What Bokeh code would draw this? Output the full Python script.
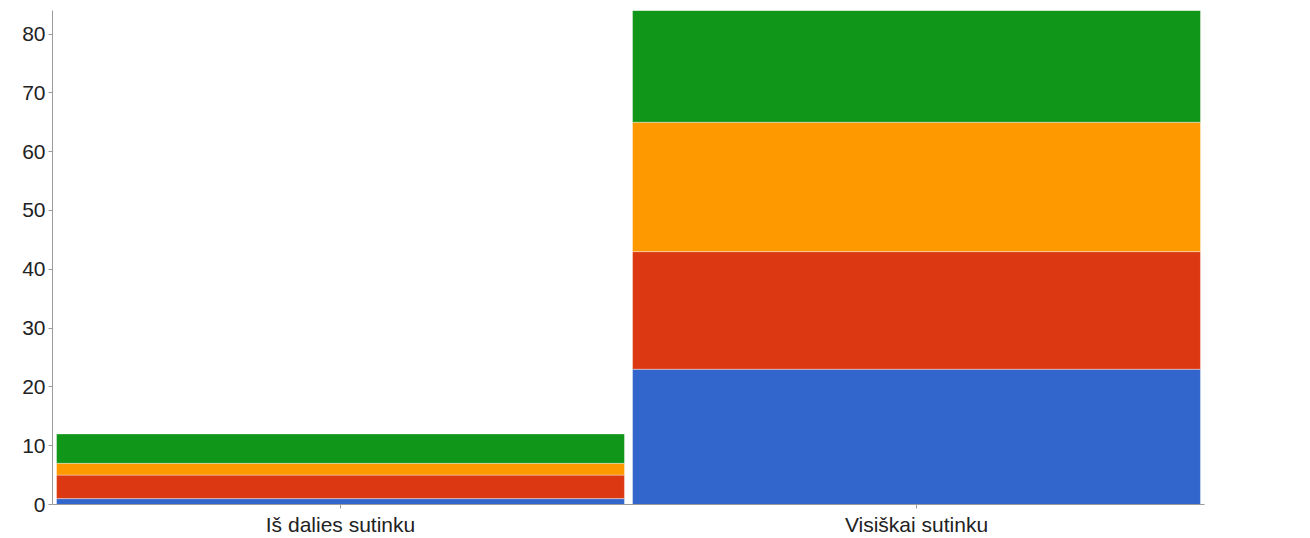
from bokeh.plotting import figure
from bokeh.models import FactorRange, Range1d, FixedTicker
from bokeh.embed import file_html
from bokeh.resources import INLINE

categories = ["Iš dalies sutinku", "Visiškai sutinku"]
series_names = ["s1", "s2", "s3", "s4"]
s1 = [1, 23]
s2 = [4, 20]
s3 = [2, 22]
s4 = [5, 19]
colors = ["#3366cc", "#dc3912", "#ff9900", "#109618"]
y_ticks = [0, 10, 20, 30, 40, 50, 60, 70, 80]

data = {"cat": categories, "s1": s1, "s2": s2, "s3": s3, "s4": s4}

p = figure(x_range=FactorRange(*categories, range_padding=0), y_range=Range1d(0, 84),
           width=1310, height=538, output_backend="svg", toolbar_location=None,
           min_border_left=52, min_border_right=106, min_border_top=10, min_border_bottom=33)
p.vbar_stack(series_names, x="cat", width=0.986, color=colors, source=data,
             line_color="white", line_width=0.6, line_alpha=0.6)

p.outline_line_color = None
p.xgrid.grid_line_color = None
p.ygrid.grid_line_color = None
p.yaxis.ticker = FixedTicker(ticks=y_ticks)
for ax in (p.xaxis, p.yaxis):
    ax.axis_line_color = "#9a9a9a"
    ax.major_tick_line_color = "#9a9a9a"
    ax.minor_tick_line_color = None
    ax.major_label_text_color = "#222222"
    ax.major_label_text_font = "Liberation Sans"
    ax.major_label_text_font_size = "21px"
    ax.major_tick_in = 0
p.yaxis.major_tick_out = 4
p.yaxis.major_label_standoff = 3
p.xaxis.major_tick_out = 4
p.xaxis.major_label_standoff = 4

open("out.html", "w").write(file_html(p, INLINE))
